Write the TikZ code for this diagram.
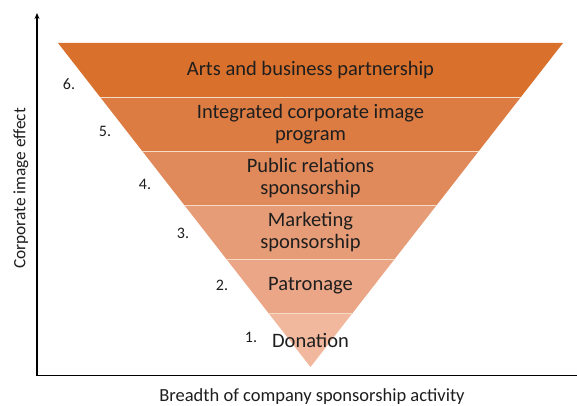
\documentclass[tikz,border=0pt]{standalone}
\usepackage{fontspec}
\setmainfont{Carlito}
\usetikzlibrary{arrows.meta}
\definecolor{bandA}{HTML}{D9712D}
\definecolor{bandB}{HTML}{DC7C43}
\definecolor{bandC}{HTML}{E0895A}
\definecolor{bandD}{HTML}{E69C76}
\definecolor{bandE}{HTML}{EBA687}
\definecolor{bandF}{HTML}{F2B89D}
\definecolor{sep}{HTML}{F5DCC6}
\definecolor{txt}{HTML}{1E1E1E}
\tikzset{
  band/.style={draw=sep, line width=0.8pt},
  bandtext/.style={font=\fontsize{20.5}{22.5}\selectfont, text=txt, align=center, inner sep=0pt},
  numlabel/.style={font=\fontsize{16}{18}\selectfont, text=txt, inner sep=0pt},
  axislabel/.style={font=\fontsize{18.5}{20}\selectfont, text=txt, inner sep=0pt},
  axisline/.style={line width=1.2pt, draw=black}
}
\begin{document}
\begin{tikzpicture}[x=1pt,y=-1pt]
\useasboundingbox (0,0) rectangle (577,406);
% bands
\fill[bandA] (58,43) -- (563,43) -- (520.92,97) -- (100.08,97) -- cycle;
\fill[bandB] (100.08,97) -- (520.92,97) -- (478.83,151) -- (142.17,151) -- cycle;
\fill[bandC] (142.17,151) -- (478.83,151) -- (436.75,205) -- (184.25,205) -- cycle;
\fill[bandD] (184.25,205) -- (436.75,205) -- (394.67,259) -- (226.33,259) -- cycle;
\fill[bandE] (226.33,259) -- (394.67,259) -- (352.58,313) -- (268.42,313) -- cycle;
\fill[bandF] (268.42,313) -- (352.58,313) -- (310.5,367) -- cycle;
\draw[band] (100.08,97) -- (520.92,97);
\draw[band] (142.17,151) -- (478.83,151);
\draw[band] (184.25,205) -- (436.75,205);
\draw[band] (226.33,259) -- (394.67,259);
\draw[band] (268.42,313) -- (352.58,313);
% band texts
\node[bandtext] (t6) at (310.5,70) {Arts and business partnership};
\node[bandtext] (t5) at (310.5,124) {Integrated corporate image\\program};
\node[bandtext] (t4) at (310.5,178) {Public relations\\sponsorship};
\node[bandtext] (t3) at (310.5,232) {Marketing\\sponsorship};
\node[bandtext] (t2) at (310.5,286) {Patronage};
\node[bandtext] (t1) at (310.5,340) {Donation};
% numbers
\node[numlabel] (n6) at (69,84) {6.};
\node[numlabel] (n5) at (105,131) {5.};
\node[numlabel] (n4) at (145,184) {4.};
\node[numlabel] (n3) at (183,233) {3.};
\node[numlabel] (n2) at (222,285) {2.};
\node[numlabel] (n1) at (251,337) {1.};
% axes
\coordinate (origin) at (37,375.5);
\coordinate (ytip) at (37,13);
\coordinate (xend) at (577,375.5);
\draw[axisline, -{Stealth[length=6pt,width=5pt]}] (origin) -- (ytip);
\draw[axisline] (origin) -- (xend);
\node[axislabel, rotate=90, font=\fontsize{17.3}{19}\selectfont] (ylab) at (21,188.5) {Corporate image effect};
\node[axislabel] (xlab) at (312,397) {Breadth of company sponsorship activity};
\end{tikzpicture}
\end{document}
